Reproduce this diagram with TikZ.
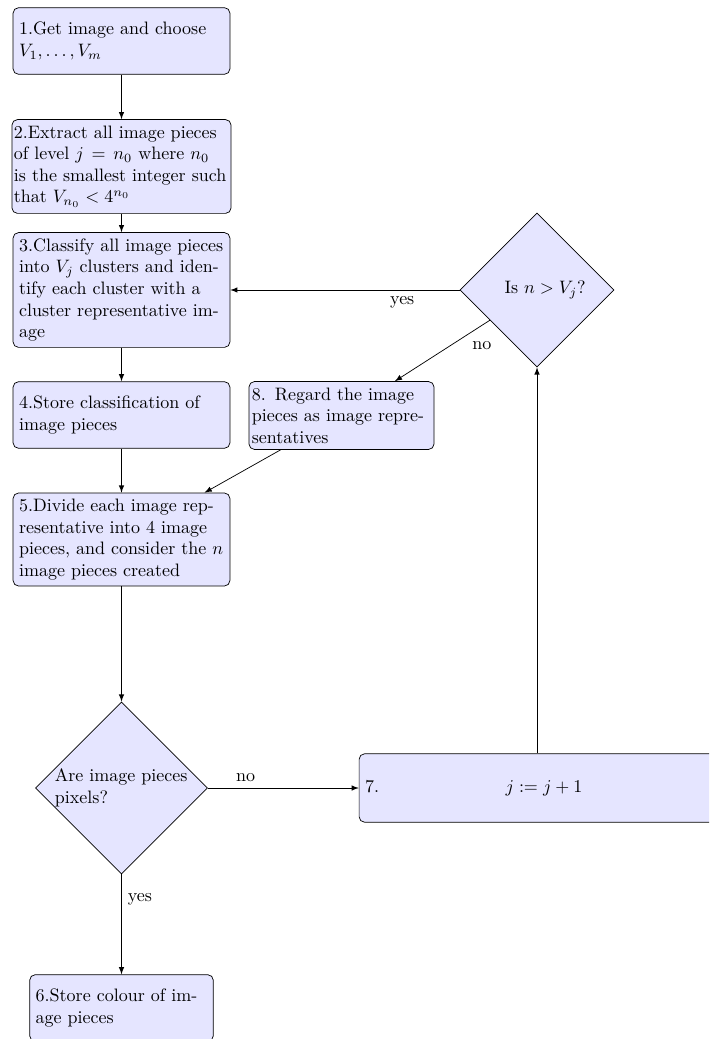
\documentclass[tikz,border=0pt]{standalone}
\usetikzlibrary{shapes.geometric,arrows}
\begin{document}
\begin{tikzpicture}[x=0.5556pt,y=-0.5556pt,
  box/.style={rectangle, rounded corners=3pt, draw, fill=blue!10, text width=4cm,
    minimum height=1.3cm, inner sep=3.33pt},
  smallbox/.style={box, text width=3.35cm},
  decision/.style={diamond, draw, fill=blue!10, aspect=1, inner sep=0pt},
  line/.style={draw, -latex}]
\useasboundingbox (0,0) rectangle (709,1039);
\clip (0,0) rectangle (709,1039);
\node[box] (b1) at (121.5,41) {1.Get image and choose $V_1,\dots,V_m$};
\node[box, text width=4.2cm, inner xsep=1.1pt] (b2) at (121.5,166.5) {2.Extract all image pieces\linebreak of level $j = n_0$ where $n_0$\linebreak is the smallest integer such\linebreak that $V_{n_0} < 4^{n_0}$};
\node[box] (b3) at (121.5,290) {3.Classify all image pieces into $V_j$ clusters and identify each cluster with a cluster representative image};
\node[box] (b4) at (121.5,415) {4.Store classification of image pieces};
\node[box] (b5) at (121.5,539.5) {5.Divide each image representative into 4 image pieces, and consider the $n$ image pieces created};
\node[decision, text width=2.6cm, align=left, minimum width=95.6pt, minimum height=95.6pt] (d1) at (121.5,788) {Are image pieces pixels?};
\node[smallbox] (b6) at (121.5,1008) {6.Store colour of image pieces};
\node[box, text width=191pt, minimum height=38pt] (b7) at (537,788) {7.\hfill $j:=j+1$\hfill\hbox{}};
\node[decision, minimum width=85.6pt, minimum height=85.6pt] (d2) at (537,290) {\hspace*{9pt}Is $n > V_j$?};
\node[smallbox, text width=3.5cm, inner xsep=1.6pt] (b8) at (341.5,415.5) {8. Regard the image\linebreak pieces as image repre\-sentatives};
\path[line] (b1) -- (b2);
\path[line] (b2) -- (b3);
\path[line] (b3) -- (b4);
\path[line] (b4) -- (b5);
\path[line] (b5) -- (d1);
\path[line] (d1) -- node[near start, right] {yes} (b6);
\path[line] (d1) -- node[near start, above] {no} (b7);
\path[line] (b7) -- (d2);
\path[line] (d2) -- node[near start, below] {yes} (b3);
\path[line] (d2) -- node[near start, below right] {no} (b8);
\path[line] (b8) -- (b5);
\end{tikzpicture}
\end{document}
